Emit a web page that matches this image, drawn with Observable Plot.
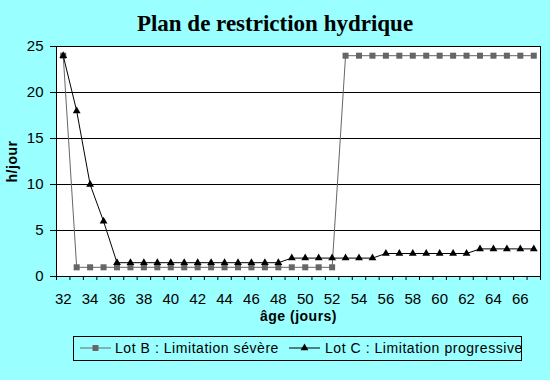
<!DOCTYPE html>
<html>
<head>
<meta charset="utf-8">
<script src="https://cdn.jsdelivr.net/npm/d3@7"></script>
<script src="https://cdn.jsdelivr.net/npm/@observablehq/plot@0.6"></script>
<style>
  html, body { margin: 0; padding: 0; background: #99FFFF; }
  #wrap { width: 550px; height: 380px; position: relative; overflow: hidden; background: #99FFFF; }
  #title { height: 36px; box-sizing: border-box; padding-top: 12px; text-align: center;
           font-family: "Liberation Serif", "Times New Roman", serif; font-weight: bold;
           font-size: 23px; line-height: 23px; color: #000; }
  #chart svg { display: block; }
  #chart g[aria-label$="axis label"] text { font-weight: bold; font-size: 14px; letter-spacing: 0.5px; }
  #legend { position: absolute; left: 73px; top: 336px; width: 449px; height: 25px; box-sizing: border-box;
            border: 1px solid #000;
            font-family: "Liberation Sans", Arial, sans-serif; font-size: 14px; letter-spacing: 0.55px; color: #000; white-space: nowrap; overflow: hidden; }
  .sw { position: absolute; top: 5px; display: block; }
  .lt { position: absolute; top: 0; line-height: 23px; }
</style>
</head>
<body>
<div id="wrap">
  <div id="title">Plan de restriction hydrique</div>
  <div id="chart"></div>
  <div id="legend"></div>
</div>
<script>
// ---- data ----
const jours = [32,33,34,35,36,37,38,39,40,41,42,43,44,45,46,47,48,49,50,51,52,53,54,55,56,57,58,59,60,61,62,63,64,65,66,67];
const lotB  = [24,1,1,1,1,1,1,1,1,1,1,1,1,1,1,1,1,1,1,1,1,24,24,24,24,24,24,24,24,24,24,24,24,24,24,24];
const lotC  = [24,18,10,6,1.5,1.5,1.5,1.5,1.5,1.5,1.5,1.5,1.5,1.5,1.5,1.5,1.5,2,2,2,2,2,2,2,2.5,2.5,2.5,2.5,2.5,2.5,2.5,3,3,3,3,3];
const xTickLabels = [32,34,36,38,40,42,44,46,48,50,52,54,56,58,60,62,64,66];
const xTickBounds = [31.5,32.5,33.5,34.5,35.5,36.5,37.5,38.5,39.5,40.5,41.5,42.5,43.5,44.5,45.5,46.5,47.5,48.5,49.5,50.5,51.5,52.5,53.5,54.5,55.5,56.5,57.5,58.5,59.5,60.5,61.5,62.5,63.5,64.5,65.5,66.5,67.5];
const yTicks = [0,5,10,15,20,25];
const yGrid = [5,10,15,20];
const seriesNames = ["Lot B : Limitation sévère", "Lot C : Limitation progressive"];
const seriesColors = ["#666666", "#000000"];

const dataB = jours.map((j, i) => ({jour: j, v: lotB[i]}));
const dataC = jours.map((j, i) => ({jour: j, v: lotC[i]}));

const chart = Plot.plot({
  width: 550,
  height: 290,
  marginLeft: 56,
  marginRight: 10,
  marginTop: 10,
  marginBottom: 50,
  style: { fontFamily: "'Liberation Sans', Arial, sans-serif", fontSize: "15px", background: "transparent", color: "#000" },
  x: { domain: [31.5, 67.5] },
  y: { domain: [0, 25] },
  marks: [
    Plot.frame({ fill: "white", stroke: null }),
    Plot.gridY(yGrid, { stroke: "#000", strokeOpacity: 1 }),
    Plot.frame({ stroke: "#000" }),
    Plot.axisY({ ticks: yTicks, tickSize: 6, tickPadding: 7, label: "h/jour", labelAnchor: "center", labelArrow: "none", labelOffset: 49 }),
    Plot.axisX({ ticks: xTickBounds, tickSize: 4, tickFormat: () => "", label: null }),
    Plot.axisX({ ticks: xTickLabels, tickSize: 0, tickPadding: 17, tickFormat: d => String(d), label: "âge (jours)", labelAnchor: "center", labelArrow: "none", labelOffset: 44 }),
    Plot.lineY(dataB, { x: "jour", y: "v", stroke: seriesColors[0], strokeWidth: 1 }),
    Plot.dot(dataB, { x: "jour", y: "v", symbol: "square", r: 3.4, fill: seriesColors[0], stroke: null }),
    Plot.lineY(dataC, { x: "jour", y: "v", stroke: seriesColors[1], strokeWidth: 1 }),
    Plot.dot(dataC, { x: "jour", y: "v", symbol: "triangle", r: 2.9, fill: seriesColors[1], stroke: null })
  ]
});
document.getElementById("chart").appendChild(chart);

// ---- legend ----
const legend = d3.select("#legend");
const symbols = [d3.symbolSquare, d3.symbolTriangle];
const sizes = [36, 26];
const swatchLeft = [6, 215];
const textLeft = [41, 251];
seriesNames.forEach((name, i) => {
  const sw = legend.append("svg").attr("class", "sw").attr("width", 31).attr("height", 12).style("left", swatchLeft[i] + "px");
  sw.append("line").attr("x1", 0).attr("x2", 31).attr("y1", 6).attr("y2", 6).attr("stroke", seriesColors[i]).attr("stroke-width", 1);
  sw.append("path").attr("transform", "translate(15.5,6)").attr("d", d3.symbol(symbols[i], sizes[i])()).attr("fill", seriesColors[i]);
  legend.append("span").attr("class", "lt").style("left", textLeft[i] + "px").text(name);
});
</script>
</body>
</html>
